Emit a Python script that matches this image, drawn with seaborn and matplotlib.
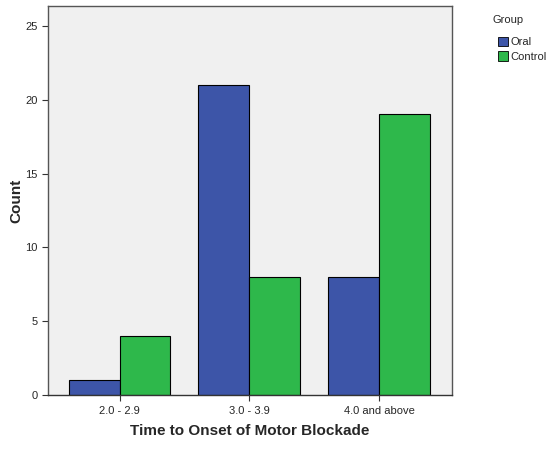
import numpy as np
import pandas as pd
import matplotlib
matplotlib.use("Agg")
import matplotlib.pyplot as plt
import seaborn as sns
from matplotlib.patches import Patch

categories = ["2.0 - 2.9", "3.0 - 3.9", "4.0 and above"]
oral = [1, 21, 8]
control = [4, 8, 19]
groups = ["Oral", "Control"]
colors = ["#3D55A8", "#2EB84B"]

df = pd.DataFrame({
    "Onset": categories * 2,
    "Group": ["Oral"] * 3 + ["Control"] * 3,
    "Count": oral + control,
})

sns.set_style("ticks")
plt.rcParams["font.family"] = ["Liberation Sans", "DejaVu Sans"]

fig = plt.figure(figsize=(5.46, 4.49), dpi=100)
ax = fig.add_axes([0.088, 0.120, 0.740, 0.867])
ax.set_facecolor("#F0F0F0")

sns.barplot(data=df, x="Onset", y="Count", hue="Group", order=categories,
            hue_order=groups, palette=colors, width=0.785, saturation=1,
            edgecolor="black", linewidth=0.8, legend=False, ax=ax)

ax.set_xlim(-0.55, 2.56)
ax.set_ylim(0, 26.35)
ax.set_yticks([0, 5, 10, 15, 20, 25])
ax.tick_params(axis="both", labelsize=8, length=4, width=0.8, color="#333333")
ax.set_xlabel("Time to Onset of Motor Blockade", fontsize=11, fontweight="bold", labelpad=6)
ax.set_ylabel("Count", fontsize=11, fontweight="bold", labelpad=1)
for s in ax.spines.values():
    s.set_color("#555555")
    s.set_linewidth(1.0)
ax.spines["bottom"].set_color("#333333")

# legend: title drawn separately to match the wider gap in the reference
fig.text(508 / 546, 1 - 20 / 449, "Group", fontsize=8, ha="center", va="center")
handles = [Patch(facecolor=c, edgecolor="black", linewidth=0.6) for c in colors]
fig.legend(handles, groups, loc="upper left", bbox_to_anchor=(498 / 546, 1 - 37 / 449),
           frameon=False, fontsize=8, borderpad=0, borderaxespad=0,
           handlelength=0.9, handleheight=0.9, handletextpad=0.25, labelspacing=0.35)

fig.savefig("out.png", dpi=100)
